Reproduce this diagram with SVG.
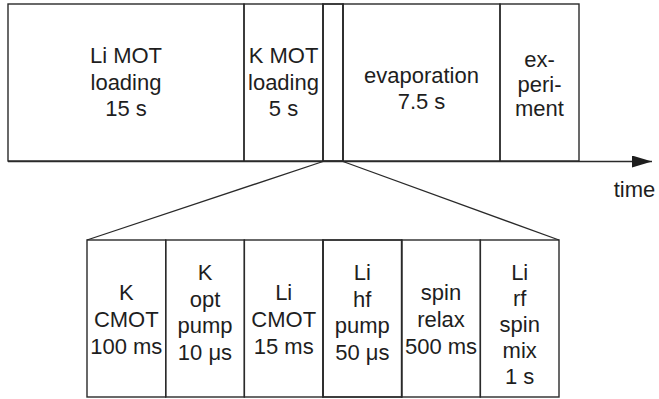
<svg xmlns="http://www.w3.org/2000/svg" width="659" height="399" viewBox="0 0 659 399">
<style>
.b{fill:none;stroke:#2a2a2a;stroke-width:1.4}
.l{stroke:#2a2a2a;stroke-width:1.3;fill:none}
.t{font-family:"Liberation Sans",Arial,sans-serif;font-size:22px;fill:#1e1e1e;text-anchor:middle}
</style>
<defs>
<marker id="ah" markerWidth="20" markerHeight="12" refX="20" refY="6" orient="auto" markerUnits="userSpaceOnUse">
<path d="M0,0 L20,6 L0,12 z" fill="#1e1e1e"/>
</marker>
</defs>
<g id="top">
<g id="li-mot"><rect class="b" x="8" y="4" width="236" height="157"/>
<text class="t" x="126"><tspan x="126" y="63">Li MOT</tspan><tspan x="126" y="89.5">loading</tspan><tspan x="126" y="116">15 s</tspan></text></g>
<g id="k-mot"><rect class="b" x="244" y="4" width="79" height="157"/>
<text class="t"><tspan x="283.5" y="63">K MOT</tspan><tspan x="283.5" y="89.5">loading</tspan><tspan x="283.5" y="116">5 s</tspan></text></g>
<g id="gap"><rect class="b" x="323" y="4" width="20" height="157" style="stroke-width:1.8"/></g>
<g id="evap"><rect class="b" x="343" y="4" width="157" height="157"/>
<text class="t"><tspan x="421.5" y="82.5">evaporation</tspan><tspan x="421.5" y="108.5">7.5 s</tspan></text></g>
<g id="exp"><rect class="b" x="500" y="4" width="79" height="157"/>
<text class="t"><tspan x="539.5" y="66.5">ex-</tspan><tspan x="539.5" y="91.5">peri-</tspan><tspan x="539.5" y="116">ment</tspan></text></g>
</g>
<g id="connectors">
<line class="l" x1="8" y1="161.5" x2="652" y2="161.5" style="stroke-width:1.6" marker-end="url(#ah)"/>
<line class="l" x1="323" y1="161.5" x2="87" y2="240"/>
<line class="l" x1="343" y1="161.5" x2="559" y2="240"/>
</g>
<text id="time" class="t" x="634.5" y="197">time</text>
<g id="bottom">
<g id="k-cmot"><rect class="b" x="87" y="240" width="78.7" height="157"/>
<text class="t"><tspan x="126.3" y="299.5">K</tspan><tspan x="126.3" y="326.5">CMOT</tspan><tspan x="126.3" y="353.5">100 ms</tspan></text></g>
<g id="k-opt"><rect class="b" x="165.7" y="240" width="78.7" height="157"/>
<text class="t"><tspan x="205" y="280">K</tspan><tspan x="205" y="306.5">opt</tspan><tspan x="205" y="333">pump</tspan><tspan x="205" y="360">10 μs</tspan></text></g>
<g id="li-cmot"><rect class="b" x="244.3" y="240" width="78.7" height="157"/>
<text class="t"><tspan x="283.7" y="299.5">Li</tspan><tspan x="283.7" y="326.5">CMOT</tspan><tspan x="283.7" y="353.5">15 ms</tspan></text></g>
<g id="li-hf"><rect class="b" x="323" y="240" width="78.7" height="157" style="stroke-width:1.8"/>
<text class="t"><tspan x="362.3" y="280">Li</tspan><tspan x="362.3" y="306.5">hf</tspan><tspan x="362.3" y="333">pump</tspan><tspan x="362.3" y="360">50 μs</tspan></text></g>
<g id="spin-relax"><rect class="b" x="401.7" y="240" width="78.7" height="157"/>
<text class="t"><tspan x="441" y="299.5">spin</tspan><tspan x="441" y="326.5">relax</tspan><tspan x="441" y="353.5">500 ms</tspan></text></g>
<g id="li-rf"><rect class="b" x="480.3" y="240" width="78.7" height="157"/>
<text class="t"><tspan x="519.7" y="280">Li</tspan><tspan x="519.7" y="306">rf</tspan><tspan x="519.7" y="332">spin</tspan><tspan x="519.7" y="358">mix</tspan><tspan x="519.7" y="384">1 s</tspan></text></g>
</g>
</svg>
